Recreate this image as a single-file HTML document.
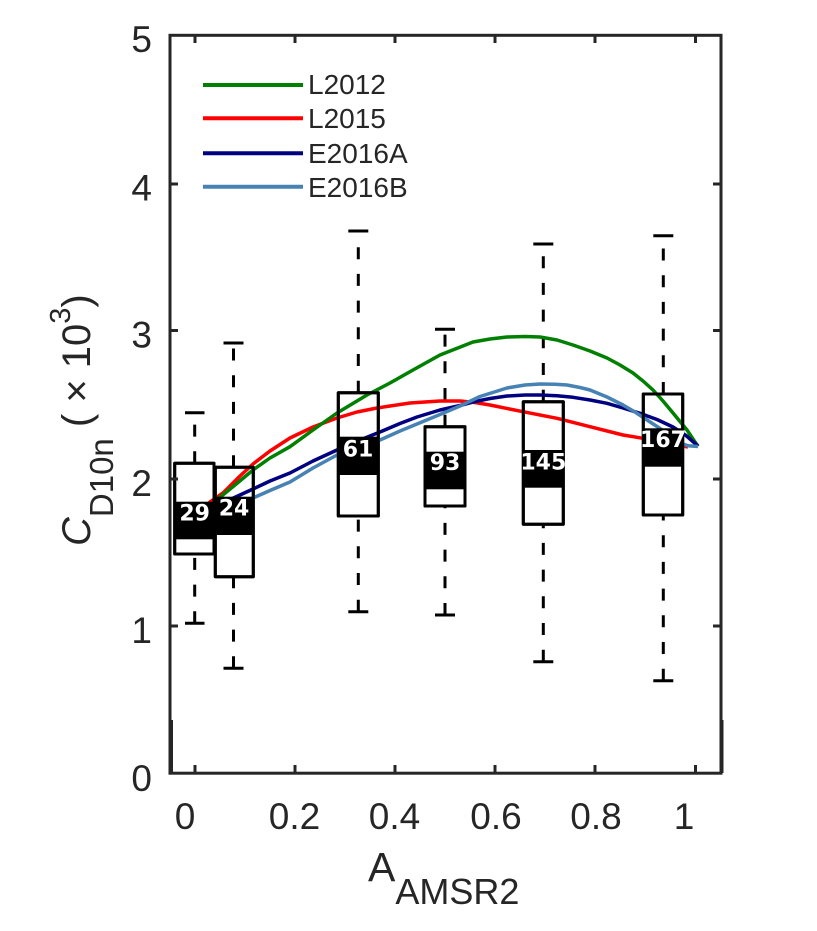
<!DOCTYPE html>
<html><head><meta charset="utf-8"><style>
html,body{margin:0;padding:0;background:#fff;}
svg{display:block;}
text{font-family:"Liberation Sans",Arial,sans-serif;}
.num{font-family:"DejaVu Sans",sans-serif;font-weight:bold;font-size:22px;fill:#fff;text-anchor:middle;}
</style></head><body>
<svg width="817" height="931" viewBox="0 0 817 931" xmlns="http://www.w3.org/2000/svg">
<rect width="817" height="931" fill="#fff"/>

<!-- Boxes: white fill + whiskers -->
<g stroke="#000" stroke-width="3" fill="#fff" stroke-linejoin="round">
  <!-- box 1 -->
  <line x1="194.7" y1="623.3" x2="194.7" y2="554" stroke-dasharray="12 14.7"/>
  <line x1="194.7" y1="463.3" x2="194.7" y2="412.7" stroke-dasharray="12 14.7"/>
  <line x1="185" y1="623.3" x2="204.5" y2="623.3"/>
  <line x1="185" y1="412.7" x2="204.5" y2="412.7"/>
  <rect x="174.7" y="463.3" width="39.3" height="90.7"/>
  <!-- box 2 -->
  <line x1="233.5" y1="668.3" x2="233.5" y2="576.7" stroke-dasharray="12 14.7"/>
  <line x1="233.5" y1="467.3" x2="233.5" y2="343" stroke-dasharray="12 14.7"/>
  <line x1="223.5" y1="668.3" x2="243.5" y2="668.3"/>
  <line x1="223.5" y1="343" x2="243.5" y2="343"/>
  <rect x="215.3" y="467.3" width="38" height="109.4"/>
  <!-- box 3 -->
  <line x1="358.3" y1="611.7" x2="358.3" y2="516" stroke-dasharray="12 14.7"/>
  <line x1="358.3" y1="392.7" x2="358.3" y2="231" stroke-dasharray="12 14.7"/>
  <line x1="348.3" y1="611.7" x2="368.3" y2="611.7"/>
  <line x1="348.3" y1="231" x2="368.3" y2="231"/>
  <rect x="338.3" y="392.7" width="40" height="123.3"/>
  <!-- box 4 -->
  <line x1="445" y1="615" x2="445" y2="506" stroke-dasharray="12 14.7"/>
  <line x1="445" y1="426.7" x2="445" y2="329.3" stroke-dasharray="12 14.7"/>
  <line x1="435" y1="615" x2="455" y2="615"/>
  <line x1="435" y1="329.3" x2="455" y2="329.3"/>
  <rect x="425" y="426.7" width="40" height="79.3"/>
  <!-- box 5 -->
  <line x1="543.3" y1="661.7" x2="543.3" y2="524.3" stroke-dasharray="12 14.7"/>
  <line x1="543.3" y1="401.7" x2="543.3" y2="244" stroke-dasharray="12 14.7"/>
  <line x1="533.3" y1="661.7" x2="553.3" y2="661.7"/>
  <line x1="533.3" y1="244" x2="553.3" y2="244"/>
  <rect x="523.3" y="401.7" width="40" height="122.6"/>
  <!-- box 6 -->
  <line x1="663.3" y1="680.7" x2="663.3" y2="515" stroke-dasharray="12 14.7"/>
  <line x1="663.3" y1="394" x2="663.3" y2="235.7" stroke-dasharray="12 14.7"/>
  <line x1="653.3" y1="680.7" x2="673.3" y2="680.7"/>
  <line x1="653.3" y1="235.7" x2="673.3" y2="235.7"/>
  <rect x="643.3" y="394" width="39.4" height="121"/>
</g>

<!-- Curves -->
<g fill="none" stroke-width="3.5" stroke-linejoin="round" stroke-linecap="butt">
  <polyline stroke="#ff0000" points="207,505 210,502 223,493 240,476 253,464 270,451 290,438 313,427 337,418 357,412 377,408 410,403 440,401 460,401 475,402.5 490,405 523,411.7 557,418.3 590,426.7 623,435 643,438.3 665,442.5 688,447"/>
  <polyline stroke="#008000" points="213,503 216.7,500 235,485 253,470 270,458 290,446.7 313,430 337,413 367,395 390,383 413,370 440,355 473,342 490,339 507,337 525,336.5 540,337 557,340 573,345 590,351 607,358 620,365 633,373 643,381 653,390 663,401 673,413 687,430 698,446.5"/>
  <polyline stroke="#000080" points="216,506 240,495 253,489 270,481 290,473 313,461 337,450 360,440 380,432 400,423.5 417,417 440,410 460,405.5 473,402 490,398.5 507,396 525,395 540,395 557,395.8 573,397.3 590,400 607,403.3 623,408 640,413.3 657,419.5 673,427 686,435.5 698,446"/>
  <polyline stroke="#4682b4" points="216,513 235,505.5 253,498 270,490.5 290,482 313,468 337,455 360,447 380,440 400,431 417,424 440,414.5 460,406 480,396.5 507,388 525,385 540,384 555,384.2 567,385 580,387.5 590,390 607,397 623,405 635,412 647,420 657,426.5 667,433 680,443 688,445.8 698,446.5"/>
</g>

<!-- Box outlines on top, black bands, labels -->
<g fill="#000">
  <rect x="174.7" y="501.7" width="39.3" height="37.6"/>
  <rect x="215.3" y="496.7" width="38" height="38.3"/>
  <rect x="338.3" y="436.7" width="40" height="38.3"/>
  <rect x="425" y="451.7" width="40" height="37.6"/>
  <rect x="523.3" y="450" width="40" height="37.7"/>
  <rect x="643.3" y="428.3" width="39.4" height="38.4"/>
</g>
<g stroke="#000" stroke-width="3" fill="none" stroke-linejoin="round">
  <rect x="174.7" y="463.3" width="39.3" height="90.7"/>
  <rect x="215.3" y="467.3" width="38" height="109.4"/>
  <rect x="338.3" y="392.7" width="40" height="123.3"/>
  <rect x="425" y="426.7" width="40" height="79.3"/>
  <rect x="523.3" y="401.7" width="40" height="122.6"/>
  <rect x="643.3" y="394" width="39.4" height="121"/>
</g>
<text class="num" x="194.7" y="520.5">29</text>
<text class="num" x="234" y="515.5">24</text>
<text class="num" x="358" y="456.5">61</text>
<text class="num" x="445" y="470">93</text>
<text class="num" x="543.3" y="469.5">145</text>
<text class="num" x="663" y="447">167</text>

<!-- Axes -->
<g stroke="#262626" stroke-width="3" fill="none">
  <rect x="170" y="35.3" width="551" height="737.9"/>
  <line x1="171.5" y1="720" x2="171.5" y2="773"/>
  <line x1="722" y1="720" x2="722" y2="773"/>
  <!-- x ticks bottom/top -->
  <line x1="195" y1="773" x2="195" y2="765"/><line x1="195" y1="35" x2="195" y2="43"/>
  <line x1="295" y1="773" x2="295" y2="765"/><line x1="295" y1="35" x2="295" y2="43"/>
  <line x1="395" y1="773" x2="395" y2="765"/><line x1="395" y1="35" x2="395" y2="43"/>
  <line x1="495" y1="773" x2="495" y2="765"/><line x1="495" y1="35" x2="495" y2="43"/>
  <line x1="595" y1="773" x2="595" y2="765"/><line x1="595" y1="35" x2="595" y2="43"/>
  <line x1="695.5" y1="773" x2="695.5" y2="765"/><line x1="695.5" y1="35" x2="695.5" y2="43"/>
  <!-- y ticks left/right -->
  <line x1="170" y1="184" x2="178" y2="184"/><line x1="721" y1="184" x2="713" y2="184"/>
  <line x1="170" y1="330.5" x2="178" y2="330.5"/><line x1="721" y1="330.5" x2="713" y2="330.5"/>
  <line x1="170" y1="479" x2="178" y2="479"/><line x1="721" y1="479" x2="713" y2="479"/>
  <line x1="170" y1="626" x2="178" y2="626"/><line x1="721" y1="626" x2="713" y2="626"/>
</g>

<!-- Tick labels -->
<g fill="#262626" font-size="37">
  <g text-anchor="end">
    <text x="152" y="52">5</text>
    <text x="152" y="200.5">4</text>
    <text x="152" y="347.5">3</text>
    <text x="152" y="496">2</text>
    <text x="152" y="643">1</text>
    <text x="152" y="791">0</text>
  </g>
  <g text-anchor="middle">
    <text x="185" y="829">0</text>
    <text x="294.5" y="829">0.2</text>
    <text x="394.5" y="829">0.4</text>
    <text x="496" y="829">0.6</text>
    <text x="596" y="829">0.8</text>
    <text x="684" y="829">1</text>
  </g>
</g>

<!-- X label -->
<text x="368" y="881" font-size="41" fill="#262626">A<tspan font-size="36" dy="23">AMSR2</tspan></text>

<!-- Y label -->
<text transform="translate(90,546) rotate(-90)" font-size="40" fill="#262626" style="white-space:pre"><tspan font-style="italic">C</tspan><tspan font-size="33" dy="23">D10n</tspan><tspan dy="-23"> ( × 10</tspan><tspan font-size="29" dy="-20">3</tspan><tspan dy="20">)</tspan></text>

<!-- Legend -->
<g stroke-width="4">
  <line x1="203" y1="85" x2="303" y2="85" stroke="#008000"/>
  <line x1="203" y1="118.3" x2="303" y2="118.3" stroke="#ff0000"/>
  <line x1="203" y1="153.3" x2="303" y2="153.3" stroke="#000080"/>
  <line x1="203" y1="186.7" x2="303" y2="186.7" stroke="#4682b4"/>
</g>
<g fill="#262626" font-size="28">
  <text x="308" y="94">L2012</text>
  <text x="308" y="128">L2015</text>
  <text x="308" y="163">E2016A</text>
  <text x="308" y="197">E2016B</text>
</g>
</svg>
</body></html>
